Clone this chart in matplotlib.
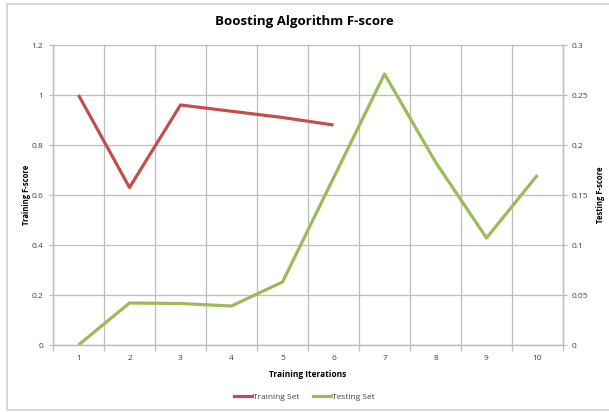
import matplotlib
matplotlib.use("Agg")
import matplotlib.pyplot as plt
from matplotlib.lines import Line2D
from matplotlib.patches import Rectangle

plt.rcParams['font.family'] = ['Open Sans', 'DejaVu Sans']

iterations = [1, 2, 3, 4, 5, 6, 7, 8, 9, 10]
train_iters = [1, 2, 3, 4, 5, 6]
train_fscore = [1.0, 0.63, 0.96, 0.935, 0.91, 0.88]
test_fscore = [0.0, 0.042, 0.0415, 0.039, 0.063, 0.167, 0.271, 0.183, 0.107, 0.170]
left_ticks = [0, 0.2, 0.4, 0.6, 0.8, 1, 1.2]
left_labels = ['0', '0.2', '0.4', '0.6', '0.8', '1', '1.2']
right_ticks = [0, 0.05, 0.1, 0.15, 0.2, 0.25, 0.3]
right_labels = ['0', '0.05', '0.1', '0.15', '0.2', '0.25', '0.3']

RED = '#C0504D'
GREEN = '#9BBB59'
GRID = '#BDBDBD'
TXT = '#404040'
LW = 2.3

fig = plt.figure(figsize=(6.09, 4.12), dpi=100)
fig.patches.append(Rectangle((7 / 609, 2 / 412), 1.0, 406 / 412, transform=fig.transFigure,
                             fill=False, edgecolor='#D0D0D0', linewidth=1.2))

ax = fig.add_axes([53 / 609, 1 - 345 / 412, 510 / 609, 300 / 412])
ax2 = ax.twinx()

ax.set_xlim(0.5, 10.5)
ax.set_ylim(0, 1.2)
ax2.set_ylim(0, 0.3)

# category boundaries carry the vertical grid and the x tick marks
bounds = [i + 0.5 for i in range(0, 11)]
ax.set_xticks(iterations)
ax.set_xticklabels([str(i) for i in iterations], fontsize=6, color=TXT)
ax.set_xticks(bounds, minor=True)
ax.tick_params(axis='x', which='major', length=0, pad=7)
ax.tick_params(axis='x', which='minor', length=4, color=GRID, width=0.9)
ax.grid(True, which='minor', axis='x', color=GRID, linewidth=0.9)

ax.set_yticks(left_ticks)
ax.set_yticklabels(left_labels, fontsize=6, color=TXT)
ax.tick_params(axis='y', length=3, color=GRID, width=0.9, pad=4)
ax.grid(True, which='major', axis='y', color=GRID, linewidth=0.9)

ax2.set_yticks(right_ticks)
ax2.set_yticklabels(right_labels, fontsize=6, color=TXT)
ax2.tick_params(axis='y', length=3, color=GRID, width=0.9, pad=3)

for a in (ax, ax2):
    a.spines['top'].set_visible(False)
    for side in ('left', 'right', 'bottom'):
        a.spines[side].set_color(GRID)
        a.spines[side].set_linewidth(0.9)
ax.set_axisbelow(True)

ax.plot(train_iters, train_fscore, color=RED, linewidth=LW, solid_capstyle='butt', zorder=3)
ax2.plot(iterations, test_fscore, color=GREEN, linewidth=LW, solid_capstyle='butt', zorder=3)

ax.set_ylabel('Training F-score', fontsize=5.5, fontweight='bold', color='black', labelpad=0)
ax2.set_ylabel('Testing F-score', fontsize=5.5, fontweight='bold', color='black', labelpad=6)
ax.set_xlabel('Training Iterations', fontsize=6, fontweight='bold', color='black', labelpad=6)

fig.text(0.5, 1 - 21 / 412, 'Boosting Algorithm F-score', ha='center', va='center',
         fontsize=9.5, fontweight='bold', color='black')

handles = [Line2D([], [], color=RED, linewidth=LW),
           Line2D([], [], color=GREEN, linewidth=LW)]
fig.legend(handles, ['Training Set', 'Testing Set'], loc='center',
           bbox_to_anchor=(0.5, 1 - 397 / 412), ncol=2, frameon=False,
           fontsize=6, handlelength=2.2, handletextpad=0.1, columnspacing=1.6,
           labelcolor=TXT)

fig.savefig('out.png', dpi=100)
